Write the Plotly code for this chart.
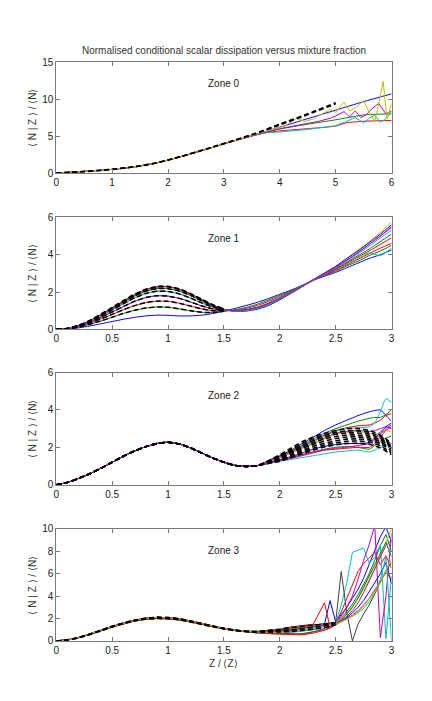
import plotly.graph_objects as go

# ---------------- colours (MATLAB default line order) ----------------
B, G, R, C, M, Y, K = '#0000ff', '#008000', '#ff0000', '#00bfbf', '#bf00bf', '#bfbf00', '#404040'

TITLE = "Normalised conditional scalar dissipation versus mixture fraction"
YTITLE = "⟨ N | Z ⟩ / ⟨N⟩"
XTITLE = "Z / ⟨Z⟩"
ZONE_LABELS = ["Zone 0", "Zone 1", "Zone 2", "Zone 3"]

# ---------------- Zone 0 ----------------
Z0_HEAD_X = [0, 0.25, 0.5, 0.75, 1.0, 1.25, 1.5, 1.75, 2.0, 2.25, 2.5, 2.75, 3.0, 3.25, 3.5]
Z0_HEAD_Y = [0, 0.1, 0.22, 0.35, 0.5, 0.7, 0.95, 1.3, 1.75, 2.25, 2.8, 3.35, 3.95, 4.5, 5.05]
Z0_DASH_X = [0, 0.25, 0.5, 0.75, 1.0, 1.25, 1.5, 1.75, 2.0, 2.25, 2.5, 2.75, 3.0, 3.5, 4.0, 4.5, 5.0]
Z0_DASH_A = [0, 0.1, 0.22, 0.36, 0.52, 0.72, 0.98, 1.32, 1.78, 2.3, 2.85, 3.42, 4.0, 5.2, 6.6, 8.0, 9.5]
Z0_DASH_B = [0, 0.1, 0.2, 0.33, 0.5, 0.7, 0.95, 1.3, 1.75, 2.27, 2.82, 3.4, 3.98, 5.15, 6.5, 7.9, 9.35]

Z0_BLUE_X = [3.75, 4.0, 4.5, 5.0, 5.5, 6.0]
Z0_BLUE_Y = [5.65, 6.2, 7.35, 8.5, 9.65, 10.7]
Z0_GREEN_X = [3.75, 4.0, 4.5, 5.0, 5.5, 6.0]
Z0_GREEN_Y = [5.5, 5.95, 6.6, 7.2, 7.85, 8.0]
Z0_RED_X = [3.75, 4.0, 4.5, 5.0, 5.2, 5.5, 6.0]
Z0_RED_Y = [5.45, 5.7, 6.0, 6.35, 6.8, 7.0, 7.1]
Z0_CYAN_X = [3.75, 4.0, 4.5, 5.0, 5.2, 5.35, 5.5, 5.6, 5.7, 5.8, 5.9, 6.0]
Z0_CYAN_Y = [5.45, 5.55, 5.9, 6.4, 7.0, 7.5, 6.8, 7.4, 7.8, 6.9, 7.3, 8.3]
Z0_MAG_X = [3.75, 4.0, 4.5, 4.7, 4.9, 5.0, 5.15, 5.25, 5.35, 5.45, 5.55, 5.65, 5.77, 5.9, 6.0]
Z0_MAG_Y = [5.5, 6.0, 6.7, 7.0, 7.4, 7.7, 8.3, 7.6, 8.4, 7.5, 7.9, 8.7, 9.4, 8.0, 8.4]
Z0_YEL_X = [3.75, 4.0, 4.1, 4.3, 4.45, 4.6, 4.75, 4.9, 5.0, 5.15, 5.25, 5.35, 5.5, 5.6, 5.7, 5.78, 5.85, 5.92, 6.0]
Z0_YEL_Y = [5.6, 6.1, 6.4, 7.4, 7.0, 7.3, 7.9, 8.6, 8.2, 9.6, 8.4, 8.8, 9.8, 8.2, 7.0, 9.6, 12.4, 7.3, 9.4]

# ---------------- Zone 1 ----------------
Z1_HEAD_X = [0, 0.1, 0.2, 0.3, 0.4, 0.5, 0.6, 0.7, 0.8, 0.9, 1.0, 1.1, 1.2, 1.3, 1.4, 1.5]
Z1_TAIL_X = [1.6, 1.7, 1.8, 1.9, 2.0, 2.1, 2.2, 2.3, 2.4, 2.5, 2.6, 2.7, 2.8, 2.9, 3.0]
Z1_L075 = [0, 0.02, 0.08, 0.18, 0.3, 0.42, 0.54, 0.64, 0.72, 0.76, 0.75, 0.72, 0.72, 0.76, 0.85, 0.97]
Z1_L120 = [0, 0.03, 0.12, 0.27, 0.45, 0.65, 0.85, 1.02, 1.14, 1.2, 1.18, 1.1, 1.0, 0.92, 0.9, 0.97]
Z1_L150 = [0, 0.04, 0.15, 0.33, 0.56, 0.8, 1.05, 1.27, 1.43, 1.51, 1.5, 1.4, 1.25, 1.1, 1.0, 1.0]
Z1_L180 = [0, 0.04, 0.17, 0.38, 0.65, 0.93, 1.22, 1.5, 1.7, 1.8, 1.78, 1.66, 1.47, 1.26, 1.1, 1.02]
Z1_L205 = [0, 0.05, 0.19, 0.42, 0.72, 1.04, 1.37, 1.68, 1.92, 2.04, 2.03, 1.9, 1.68, 1.42, 1.2, 1.05]
Z1_L220 = [0, 0.05, 0.2, 0.44, 0.76, 1.1, 1.45, 1.78, 2.04, 2.18, 2.18, 2.05, 1.82, 1.53, 1.26, 1.07]
Z1_L230 = [0, 0.05, 0.21, 0.46, 0.79, 1.15, 1.51, 1.85, 2.12, 2.27, 2.28, 2.15, 1.9, 1.6, 1.3, 1.08]
Z1_L232 = [0, 0.06, 0.22, 0.48, 0.82, 1.18, 1.54, 1.88, 2.15, 2.3, 2.31, 2.18, 1.93, 1.62, 1.32, 1.09]

Z1_T1 = [1.12, 1.28, 1.45, 1.65, 1.88, 2.1, 2.35, 2.62, 2.85, 3.05, 3.3, 3.55, 3.8, 4.0, 4.25]
Z1_T2 = [1.05, 1.18, 1.35, 1.57, 1.82, 2.07, 2.35, 2.65, 2.9, 3.12, 3.4, 3.65, 3.95, 4.2, 4.5]
Z1_T3 = [1.02, 1.12, 1.28, 1.5, 1.76, 2.03, 2.33, 2.65, 2.92, 3.15, 3.45, 3.75, 4.05, 4.35, 4.6]
Z1_T4 = [1.0, 1.07, 1.2, 1.42, 1.7, 2.0, 2.32, 2.65, 2.95, 3.2, 3.5, 3.8, 4.1, 3.95, 4.35]
Z1_T5 = [0.98, 1.03, 1.15, 1.37, 1.65, 1.96, 2.3, 2.65, 2.98, 3.3, 3.7, 4.1, 4.55, 5.0, 5.5]
Z1_T6 = [0.97, 1.0, 1.1, 1.3, 1.6, 1.93, 2.28, 2.65, 3.0, 3.35, 3.8, 4.25, 4.7, 5.2, 5.75]
Z1_T7 = [0.96, 0.98, 1.08, 1.28, 1.58, 1.92, 2.28, 2.66, 3.02, 3.38, 3.8, 4.2, 4.65, 5.1, 5.6]
Z1_T8 = [1.0, 1.05, 1.17, 1.38, 1.66, 1.97, 2.3, 2.63, 2.95, 3.25, 3.6, 3.95, 4.3, 4.7, 5.1]
Z1_T9 = [0.98, 1.02, 1.13, 1.34, 1.63, 1.95, 2.3, 2.63, 2.95, 3.22, 3.55, 3.88, 4.2, 4.55, 4.9]
Z1_T10 = [0.97, 1.0, 1.12, 1.33, 1.62, 1.94, 2.29, 2.64, 2.97, 3.3, 3.65, 4.05, 4.45, 4.9, 5.3]
Z1_T11 = [1.0, 1.06, 1.18, 1.4, 1.68, 1.98, 2.31, 2.66, 3.0, 3.33, 3.72, 4.12, 4.55, 5.0, 5.45]

# ---------------- Zone 2 ----------------
Z2_HEAD_X = [0, 0.1, 0.2, 0.3, 0.4, 0.5, 0.6, 0.7, 0.8, 0.9, 1.0, 1.1, 1.2, 1.3, 1.4, 1.5, 1.6, 1.7, 1.8]
Z2_HEAD_Y = [0, 0.12, 0.33, 0.58, 0.88, 1.2, 1.52, 1.8, 2.03, 2.2, 2.27, 2.18, 1.97, 1.7, 1.43, 1.2, 1.03, 0.98, 1.02]
Z2_TAIL_X = [1.9, 2.0, 2.1, 2.2, 2.3, 2.4, 2.5, 2.6, 2.7, 2.8, 2.85, 2.9, 2.95, 3.0]
Z2_D1 = [1.28, 1.6, 1.95, 2.3, 2.55, 2.75, 2.9, 3.0, 3.0, 2.9, 2.8, 2.65, 2.45, 2.2]
Z2_D2 = [1.26, 1.55, 1.88, 2.2, 2.45, 2.65, 2.8, 2.88, 2.88, 2.8, 2.7, 2.57, 2.38, 2.12]
Z2_D3 = [1.24, 1.5, 1.8, 2.1, 2.35, 2.55, 2.7, 2.77, 2.77, 2.7, 2.6, 2.48, 2.3, 2.05]
Z2_D4 = [1.22, 1.45, 1.72, 2.0, 2.25, 2.45, 2.58, 2.66, 2.66, 2.6, 2.5, 2.4, 2.22, 1.98]
Z2_D5 = [1.2, 1.4, 1.65, 1.92, 2.15, 2.33, 2.47, 2.55, 2.56, 2.5, 2.42, 2.3, 2.12, 1.9]
Z2_D6 = [1.18, 1.35, 1.58, 1.83, 2.05, 2.22, 2.35, 2.44, 2.45, 2.4, 2.32, 2.2, 2.02, 1.8]
Z2_D7 = [1.16, 1.3, 1.52, 1.75, 1.95, 2.12, 2.24, 2.32, 2.34, 2.28, 2.2, 2.08, 1.9, 1.7]
Z2_D8 = [1.14, 1.25, 1.45, 1.66, 1.85, 2.02, 2.13, 2.2, 2.22, 2.16, 2.08, 1.97, 1.8, 1.6]
Z2_BLUE_UP = [1.3, 1.55, 1.85, 2.2, 2.55, 2.9, 3.2, 3.45, 3.7, 3.9, 3.97, 4.0, 3.7, 3.4]
Z2_GREEN_UP = [1.27, 1.5, 1.8, 2.1, 2.45, 2.75, 3.0, 3.2, 3.4, 3.55, 3.6, 3.6, 3.75, 4.0]
Z2_RED_UP = [1.26, 1.5, 1.75, 2.05, 2.35, 2.65, 2.9, 3.05, 3.15, 3.2, 3.3, 3.45, 3.7, 3.8]
Z2_CYAN_UP = [1.24, 1.45, 1.7, 2.0, 2.3, 2.6, 2.85, 3.0, 3.05, 3.1, 3.3, 3.9, 4.6, 4.4]
Z2_MAG_UP = [1.23, 1.45, 1.7, 1.95, 2.2, 2.5, 2.75, 2.85, 2.9, 2.85, 2.9, 3.0, 3.1, 3.0]
Z2_YEL_UP = [1.22, 1.45, 1.7, 1.95, 2.2, 2.45, 2.7, 2.8, 2.85, 2.75, 2.7, 2.8, 2.9, 2.8]
Z2_BLUE_LO = [1.18, 1.35, 1.5, 1.7, 1.9, 2.05, 2.15, 2.2, 2.2, 2.25, 2.5, 2.8, 3.1, 3.3]
Z2_GREEN_LO = [1.15, 1.3, 1.45, 1.6, 1.75, 1.9, 2.0, 2.05, 2.0, 1.9, 2.1, 2.3, 2.5, 2.6]
Z2_RED_LO = [1.15, 1.3, 1.45, 1.6, 1.75, 1.85, 1.9, 1.95, 2.0, 2.0, 2.2, 2.55, 2.9, 3.1]
Z2_CYAN_LO = [1.12, 1.25, 1.35, 1.45, 1.55, 1.65, 1.75, 1.8, 1.85, 1.75, 1.85, 2.0, 2.1, 2.2]
Z2_MAG_LO = [1.14, 1.3, 1.4, 1.55, 1.7, 1.85, 1.95, 2.0, 2.1, 2.2, 2.4, 2.7, 3.0, 3.2]

# ---------------- Zone 3 ----------------
Z3_HEAD_X = [0, 0.1, 0.2, 0.3, 0.4, 0.5, 0.6, 0.7, 0.8, 0.9, 1.0, 1.1, 1.2, 1.3, 1.4, 1.5, 1.6, 1.7]
Z3_HEAD_A = [0, 0.1, 0.3, 0.6, 0.95, 1.3, 1.6, 1.85, 2.02, 2.1, 2.08, 1.97, 1.78, 1.55, 1.32, 1.12, 0.96, 0.86]
Z3_HEAD_B = [0, 0.09, 0.28, 0.56, 0.9, 1.24, 1.54, 1.78, 1.94, 2.0, 1.98, 1.88, 1.7, 1.48, 1.26, 1.07, 0.92, 0.82]
Z3_TAIL_X = [1.8, 1.9, 2.0, 2.1, 2.2, 2.3, 2.4, 2.45, 2.5, 2.55, 2.6, 2.65, 2.7, 2.75, 2.8, 2.85, 2.9, 2.95, 3.0]
Z3_T_BLUE = [0.8, 0.85, 0.95, 1.1, 1.3, 1.45, 1.5, 3.6, 1.7, 2.3, 3.0, 3.8, 4.6, 5.6, 6.8, 8.0, 9.3, 10.2, 8.8]
Z3_T_GREEN = [0.78, 0.8, 0.9, 1.0, 1.15, 1.3, 1.45, 1.55, 1.6, 2.0, 2.6, 3.3, 4.1, 5.0, 6.0, 7.2, 8.5, 9.5, 8.0]
Z3_T_RED = [0.8, 0.9, 1.05, 1.25, 1.4, 1.5, 3.4, 1.2, 1.6, 2.6, 3.8, 5.0, 6.2, 6.9, 7.4, 7.9, 6.8, 7.6, 6.5]
Z3_T_CYAN = [0.75, 0.72, 0.7, 0.75, 0.85, 1.0, 1.3, 1.45, 1.6, 3.2, 5.2, 7.9, 8.1, 8.3, 6.9, 7.5, 8.6, 0.2, 5.8]
Z3_T_MAG = [0.8, 0.75, 0.7, 0.65, 0.6, 0.8, 1.1, 1.3, 1.55, 2.2, 3.0, 4.0, 5.5, 7.2, 8.6, 10.3, 0.3, 4.0, 9.6]
Z3_T_YEL = [0.9, 0.95, 1.0, 1.1, 1.25, 1.4, 1.55, 1.6, 1.65, 2.0, 2.5, 3.1, 3.8, 4.6, 5.5, 6.5, 7.6, 8.8, 10.0]
Z3_T_BLACK = [0.85, 0.9, 1.0, 1.15, 1.3, 1.45, 1.55, 1.6, 1.65, 6.2, 2.5, 0.0, 1.5, 2.4, 3.2, 4.2, 5.3, 6.3, 7.0]
Z3_T_BLUE2 = [0.7, 0.7, 0.75, 0.8, 0.9, 1.05, 1.3, 1.45, 1.6, 1.8, 2.1, 2.5, 3.0, 3.6, 4.4, 5.2, 6.0, 7.0, 5.1]
Z3_T_GREEN2 = [0.75, 0.7, 0.65, 0.6, 0.65, 0.8, 1.0, 1.2, 1.5, 1.9, 2.4, 3.0, 3.8, 4.8, 5.8, 6.8, 7.8, 8.8, 7.5]
Z3_T_RED2 = [0.7, 0.65, 0.6, 0.55, 0.55, 0.7, 0.95, 1.15, 1.45, 1.7, 2.0, 2.3, 2.7, 3.2, 3.8, 4.5, 5.3, 6.1, 5.5]
Z3_T_CYAN2 = [0.72, 0.75, 0.8, 0.9, 1.0, 1.2, 1.35, 1.5, 1.6, 1.75, 1.95, 2.2, 2.5, 2.9, 3.5, 4.3, 5.5, 7.5, 0.0]
Z3_T_MAG2 = [0.78, 0.8, 0.85, 0.95, 1.1, 1.25, 1.4, 1.5, 1.6, 1.8, 2.2, 2.7, 3.4, 4.3, 5.3, 6.4, 7.5, 8.5, 9.0]
Z3_T_YEL2 = [0.8, 0.78, 0.75, 0.8, 0.9, 1.1, 1.3, 1.45, 1.55, 1.7, 1.9, 2.2, 2.6, 3.1, 3.7, 4.4, 5.2, 6.2, 7.3]
Z3_DASH_X = [1.8, 1.9, 2.0, 2.1, 2.2, 2.3, 2.4, 2.45, 2.5]
Z3_D1 = [0.82, 0.85, 0.92, 1.0, 1.1, 1.2, 1.35, 1.45, 1.55]
Z3_D2 = [0.8, 0.78, 0.8, 0.85, 0.95, 1.05, 1.2, 1.3, 1.45]
Z3_D3 = [0.85, 0.95, 1.05, 1.2, 1.3, 1.4, 1.5, 1.55, 1.65]

fig = go.Figure()


def add(x, y, color, ax, dash=None, width=1.0, shape='spline'):
    fig.add_trace(go.Scatter(
        x=x, y=y, mode='lines', xaxis='x' + ax, yaxis='y' + ax,
        line=dict(color=color, width=width, dash=dash, shape=shape,
                  smoothing=0.6 if shape == 'spline' else None),
        showlegend=False, hoverinfo='skip'))


DASH = '5px,3px'

# Zone 0
for xs, ys, col, shp in [
        (Z0_BLUE_X, Z0_BLUE_Y, B, 'spline'), (Z0_GREEN_X, Z0_GREEN_Y, G, 'spline'),
        (Z0_RED_X, Z0_RED_Y, R, 'spline'), (Z0_CYAN_X, Z0_CYAN_Y, C, 'linear'),
        (Z0_MAG_X, Z0_MAG_Y, M, 'linear'), (Z0_YEL_X, Z0_YEL_Y, Y, 'linear')]:
    add(Z0_HEAD_X + xs, Z0_HEAD_Y + ys, col, '', shape=shp)
add(Z0_DASH_X, Z0_DASH_A, 'black', '', dash=DASH, width=1.6)
add(Z0_DASH_X, Z0_DASH_B, 'black', '', dash=DASH, width=1.6)

# Zone 1
z1 = [(Z1_L075, Z1_T1, B), (Z1_L120, Z1_T2, G), (Z1_L150, Z1_T3, R), (Z1_L180, Z1_T4, C),
      (Z1_L205, Z1_T5, M), (Z1_L220, Z1_T6, Y), (Z1_L230, Z1_T7, B), (Z1_L220, Z1_T8, G),
      (Z1_L230, Z1_T9, R), (Z1_L205, Z1_T10, C), (Z1_L180, Z1_T11, M)]
for h, t, col in z1:
    add(Z1_HEAD_X + Z1_TAIL_X, h + t, col, '2')
for h in [Z1_L120, Z1_L150, Z1_L180, Z1_L205, Z1_L220, Z1_L230, Z1_L232]:
    add(Z1_HEAD_X, h, 'black', '2', dash=DASH, width=1.5)

# Zone 2
for t, col in [(Z2_BLUE_UP, B), (Z2_GREEN_UP, G), (Z2_RED_UP, R), (Z2_CYAN_UP, C),
               (Z2_MAG_UP, M), (Z2_YEL_UP, Y), (Z2_BLUE_LO, B), (Z2_GREEN_LO, G),
               (Z2_RED_LO, R), (Z2_CYAN_LO, C), (Z2_MAG_LO, M)]:
    add(Z2_HEAD_X + Z2_TAIL_X, Z2_HEAD_Y + t, col, '3')
for t in [Z2_D1, Z2_D2, Z2_D3, Z2_D4, Z2_D5, Z2_D6, Z2_D7, Z2_D8]:
    add(Z2_HEAD_X + Z2_TAIL_X, Z2_HEAD_Y + t, 'black', '3', dash=DASH, width=1.6)

# Zone 3
z3 = [(Z3_HEAD_A, Z3_T_BLUE, B), (Z3_HEAD_A, Z3_T_GREEN, G), (Z3_HEAD_B, Z3_T_RED, R),
      (Z3_HEAD_A, Z3_T_CYAN, C), (Z3_HEAD_A, Z3_T_MAG, M), (Z3_HEAD_A, Z3_T_YEL, Y),
      (Z3_HEAD_A, Z3_T_BLACK, K), (Z3_HEAD_A, Z3_T_BLUE2, B), (Z3_HEAD_B, Z3_T_GREEN2, G),
      (Z3_HEAD_B, Z3_T_RED2, R), (Z3_HEAD_A, Z3_T_CYAN2, C), (Z3_HEAD_A, Z3_T_MAG2, M),
      (Z3_HEAD_A, Z3_T_YEL2, Y)]
for h, t, col in z3:
    add(Z3_HEAD_X + Z3_TAIL_X, h + t, col, '4', shape='linear')
for h, t in [(Z3_HEAD_A, Z3_D1), (Z3_HEAD_B, Z3_D2), (Z3_HEAD_A, Z3_D3)]:
    add(Z3_HEAD_X + Z3_DASH_X, h + t, 'black', '4', dash=DASH, width=1.6)

# ---------------- layout ----------------
W, H = 432, 701
XDOM = [54 / W, 394 / W]
panels = [(57, 170), (215, 329), (373, 487), (532, 646)]
ydoms = [[1 - b / H, 1 - t / H] for t, b in panels]
xranges = [[0, 6], [0, 3], [0, 3], [0, 3]]
yranges = [[0, 15], [0, 6], [0, 6], [0, 10]]
xticks = [[0, 1, 2, 3, 4, 5, 6], [0, 0.5, 1, 1.5, 2, 2.5, 3], [0, 0.5, 1, 1.5, 2, 2.5, 3], [0, 0.5, 1, 1.5, 2, 2.5, 3]]
yticks = [[0, 5, 10, 15], [0, 2, 4, 6], [0, 2, 4, 6], [0, 2, 4, 6, 8, 10]]
zone_pos = [(3, 12.05), (1.5, 4.84), (1.5, 4.8), (1.5, 8.05)]

FONT = "Arial, Liberation Sans, Helvetica, sans-serif"
layout = dict(width=W, height=H, margin=dict(l=0, r=0, t=0, b=0),
              paper_bgcolor='white', plot_bgcolor='white',
              font=dict(family=FONT, size=10, color='#222222'), showlegend=False)
annotations = []
for i in range(4):
    s = '' if i == 0 else str(i + 1)
    axis_common = dict(showline=True, linecolor='#7a7a7a', linewidth=1, mirror='ticks',
                       ticks='inside', ticklen=4, tickcolor='#7a7a7a', showgrid=False,
                       zeroline=False, tickfont=dict(size=10, color='#222222', family=FONT))
    layout['xaxis' + s] = dict(domain=XDOM, range=xranges[i], tickvals=xticks[i],
                               ticktext=[('%g' % v) for v in xticks[i]],
                               anchor='y' + s, **axis_common)
    layout['yaxis' + s] = dict(domain=ydoms[i], range=yranges[i], tickvals=yticks[i],
                               ticktext=[('%g' % v) for v in yticks[i]],
                               anchor='x' + s, **axis_common)
    annotations.append(dict(x=zone_pos[i][0], y=zone_pos[i][1], xref='x' + s, yref='y' + s,
                            text=ZONE_LABELS[i], showarrow=False,
                            xanchor='center', yanchor='middle',
                            font=dict(size=10, color='#222222', family=FONT)))
    t, b = panels[i]
    annotations.append(dict(x=30 / W, y=1 - (t + b) / 2 / H, xref='paper', yref='paper',
                            text=YTITLE, textangle=-90, showarrow=False,
                            xanchor='center', yanchor='middle',
                            font=dict(size=10, color='#333333', family=FONT)))
annotations.append(dict(x=224 / W, y=1 - 45 / H, xref='paper', yref='paper', text=TITLE,
                        showarrow=False, xanchor='center', yanchor='middle',
                        font=dict(size=10, color='#333333', family=FONT)))
annotations.append(dict(x=224 / W, y=1 - 669 / H, xref='paper', yref='paper', text=XTITLE,
                        showarrow=False, xanchor='center', yanchor='middle',
                        font=dict(size=10, color='#333333', family=FONT)))
layout['annotations'] = annotations
fig.update_layout(**layout)
fig.write_html("out.html")
